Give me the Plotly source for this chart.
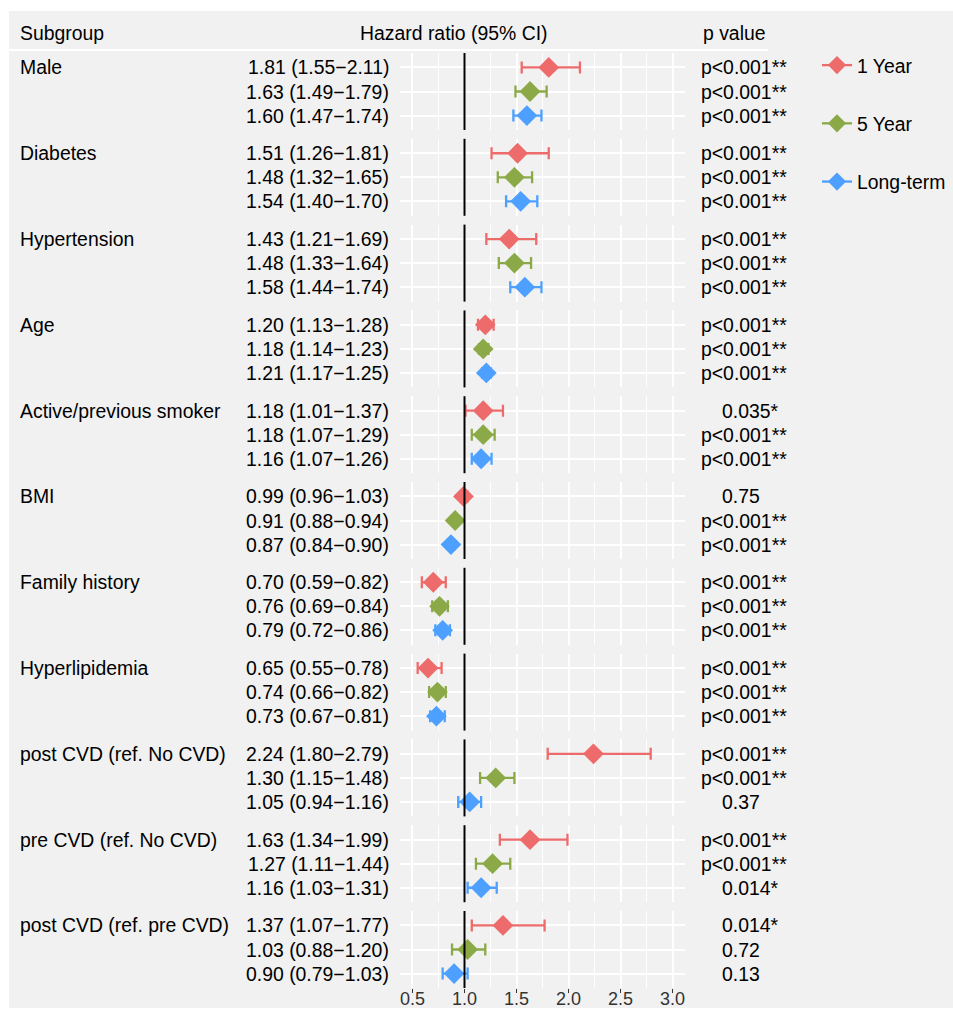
import plotly.graph_objects as go

# ---------------- data ----------------
subgroups = ["Male", "Diabetes", "Hypertension", "Age", "Active/previous smoker", "BMI",
             "Family history", "Hyperlipidemia", "post CVD (ref. No CVD)",
             "pre CVD (ref. No CVD)", "post CVD (ref. pre CVD)"]
periods = ["1 Year", "5 Year", "Long-term"]

hr = [[1.81, 1.63, 1.60], [1.51, 1.48, 1.54], [1.43, 1.48, 1.58], [1.20, 1.18, 1.21],
      [1.18, 1.18, 1.16], [0.99, 0.91, 0.87], [0.70, 0.76, 0.79], [0.65, 0.74, 0.73],
      [2.24, 1.30, 1.05], [1.63, 1.27, 1.16], [1.37, 1.03, 0.90]]
lower = [[1.55, 1.49, 1.47], [1.26, 1.32, 1.40], [1.21, 1.33, 1.44], [1.13, 1.14, 1.17],
         [1.01, 1.07, 1.07], [0.96, 0.88, 0.84], [0.59, 0.69, 0.72], [0.55, 0.66, 0.67],
         [1.80, 1.15, 0.94], [1.34, 1.11, 1.03], [1.07, 0.88, 0.79]]
upper = [[2.11, 1.79, 1.74], [1.81, 1.65, 1.70], [1.69, 1.64, 1.74], [1.28, 1.23, 1.25],
         [1.37, 1.29, 1.26], [1.03, 0.94, 0.90], [0.82, 0.84, 0.86], [0.78, 0.82, 0.81],
         [2.79, 1.48, 1.16], [1.99, 1.44, 1.31], [1.77, 1.20, 1.03]]
pvals = [["p<0.001**"] * 3, ["p<0.001**"] * 3, ["p<0.001**"] * 3, ["p<0.001**"] * 3,
         ["0.035*", "p<0.001**", "p<0.001**"], ["0.75", "p<0.001**", "p<0.001**"],
         ["p<0.001**"] * 3, ["p<0.001**"] * 3,
         ["p<0.001**", "p<0.001**", "0.37"], ["p<0.001**", "p<0.001**", "0.014*"],
         ["0.014*", "0.72", "0.13"]]
x_ticks = [0.5, 1.0, 1.5, 2.0, 2.5, 3.0]
ref_value = 1.0

# ---------------- style ----------------
colors = ["#EE6B6B", "#8BAA47", "#4DA0FF"]
BG = "#F0F1F0"
FONT = "Liberation Sans, Arial, Helvetica, sans-serif"
FS = 19.4
W, H = 953, 1010


def px(X):
    return X / W


def py(Y):
    return 1 - Y / H


PANEL_TOP0, GROUP_STEP, PANEL_H = 53, 85.8, 77
X_LEFT, X_RIGHT = 400, 685
XRANGE = [0.38, 3.12]

fig = go.Figure()
layout_axes = {}
shapes = [dict(type="rect", xref="paper", yref="paper", x0=px(9), x1=1, y0=py(1008), y1=py(11),
               fillcolor=BG, line=dict(width=0), layer="below"),
          dict(type="line", xref="paper", yref="paper", x0=px(9), x1=px(768), y0=py(50), y1=py(50),
               line=dict(color="white", width=2))]
annotations = []

n = len(subgroups)
for g in range(n):
    ax = "" if g == 0 else str(g + 1)
    top = PANEL_TOP0 + g * GROUP_STEP
    bottom = top + PANEL_H
    is_last = g == n - 1
    layout_axes[f"xaxis{ax}"] = dict(
        domain=[px(X_LEFT), px(X_RIGHT)], range=XRANGE, anchor=f"y{ax}", automargin=False,
        tickmode="array", tickvals=x_ticks, ticktext=[f"{v:.1f}" for v in x_ticks],
        showgrid=True, gridcolor="white", gridwidth=1.5, zeroline=False, showline=False,
        minor=dict(dtick=0.25, tick0=0.5, showgrid=True, gridcolor="white", gridwidth=1.0),
        showticklabels=is_last, ticks="outside" if is_last else "", ticklen=4, tickwidth=1.3,
        tickcolor="#333333", tickfont=dict(family=FONT, size=18, color="#333333"),
        ticklabelstandoff=-10, fixedrange=True)
    layout_axes[f"yaxis{ax}"] = dict(
        domain=[py(bottom), py(top)], range=[2.6, -0.6], anchor=f"x{ax}", automargin=False,
        tickmode="array", tickvals=[0, 1, 2], showticklabels=False, ticks="",
        showgrid=True, gridcolor="white", gridwidth=1.5, zeroline=False, showline=False,
        fixedrange=True)

    for k in range(len(periods)):
        fig.add_trace(go.Scatter(
            x=[hr[g][k]], y=[k], mode="markers", xaxis=f"x{ax}", yaxis=f"y{ax}",
            marker=dict(symbol="diamond", size=16, color=colors[k]),
            error_x=dict(type="data", symmetric=False,
                         array=[upper[g][k] - hr[g][k]], arrayminus=[hr[g][k] - lower[g][k]],
                         color=colors[k], thickness=2.3, width=6),
            showlegend=False, hoverinfo="skip"))
        annotations.append(dict(
            x=px(391), xref="paper", y=k, yref=f"y{ax}", xanchor="right", yanchor="middle",
            text=f"{hr[g][k]:.2f} ({lower[g][k]:.2f}\u2212{upper[g][k]:.2f})",
            showarrow=False, font=dict(family=FONT, size=FS, color="black")))
        p = pvals[g][k]
        annotations.append(dict(
            x=px(699 if p.startswith("p") else 720), xref="paper", y=k, yref=f"y{ax}",
            xanchor="left", yanchor="middle", text=p, showarrow=False,
            font=dict(family=FONT, size=FS, color="black")))

    annotations.append(dict(
        x=px(18), xref="paper", y=0, yref=f"y{ax}", xanchor="left", yanchor="middle",
        text=subgroups[g], showarrow=False, font=dict(family=FONT, size=FS, color="black")))

    shapes.append(dict(type="line", xref=f"x{ax}", yref=f"y{ax} domain", x0=ref_value, x1=ref_value,
                       y0=0, y1=1, line=dict(color="black", width=2)))

# legend keys
for k, name in enumerate(periods):
    fig.add_trace(go.Scatter(
        x=[None], y=[None], mode="lines+markers", name=name, legendgroup=name,
        marker=dict(symbol="diamond", size=14, color=colors[k]),
        line=dict(color=colors[k], width=2.3), xaxis="x", yaxis="y"))

annotations += [
    dict(x=px(18), y=py(33), xref="paper", yref="paper", xanchor="left", yanchor="middle",
         text="Subgroup", showarrow=False, font=dict(family=FONT, size=FS, color="black")),
    dict(x=px(454), y=py(33), xref="paper", yref="paper", xanchor="center", yanchor="middle",
         text="Hazard ratio (95% CI)", showarrow=False, font=dict(family=FONT, size=FS, color="black")),
    dict(x=px(701), y=py(33), xref="paper", yref="paper", xanchor="left", yanchor="middle",
         text="p value", showarrow=False, font=dict(family=FONT, size=FS, color="black")),
]

fig.update_layout(
    width=W, height=H, margin=dict(l=0, r=0, t=0, b=0),
    paper_bgcolor="white", plot_bgcolor=BG,
    font=dict(family=FONT, size=FS, color="black"),
    shapes=shapes, annotations=annotations,
    legend=dict(x=px(817), xanchor="left", y=py(46), yanchor="top", tracegroupgap=30,
                bgcolor="rgba(0,0,0,0)", font=dict(family=FONT, size=FS, color="black")),
    **layout_axes)

fig.write_html("out.html", config={"displayModeBar": False},
               post_script="document.body.style.margin='0px';")
